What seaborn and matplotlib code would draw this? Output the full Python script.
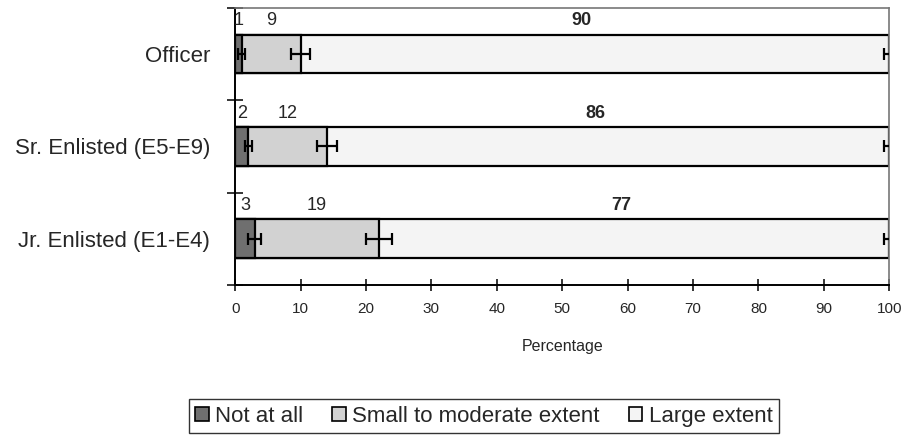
"""Stacked horizontal bars: extent by rank group."""

import numpy as np
import pandas as pd
import matplotlib
matplotlib.use("Agg")
import matplotlib.pyplot as plt
from matplotlib.patches import Patch
import seaborn as sns

groups = ["Officer", "Sr. Enlisted (E5-E9)", "Jr. Enlisted (E1-E4)"]
categories = ["Not at all", "Small to moderate extent", "Large extent"]
not_at_all = [1, 2, 3]
small_moderate = [9, 12, 19]
large = [90, 86, 77]
err_not = [0.5, 0.5, 1.0]
err_small = [1.5, 1.5, 2.0]
err_large = [0.8, 0.8, 0.8]
xticks = [0, 10, 20, 30, 40, 50, 60, 70, 80, 90, 100]

colors = {"Not at all": "#6f6f6f",
          "Small to moderate extent": "#d2d2d2",
          "Large extent": "#f4f4f4"}


def main() -> None:
    sns.set_style("white")
    plt.rcParams["font.family"] = ["Liberation Sans", "DejaVu Sans"]

    c1 = np.array(not_at_all, dtype=float)
    c2 = c1 + np.array(small_moderate)
    c3 = np.full(len(groups), 100.0)

    rows = []
    for i, g in enumerate(groups):
        rows.append({"group": g, "cat": "Large extent", "end": c3[i]})
        rows.append({"group": g, "cat": "Small to moderate extent", "end": c2[i]})
        rows.append({"group": g, "cat": "Not at all", "end": c1[i]})
    df = pd.DataFrame(rows)

    fig = plt.figure(figsize=(9.01, 4.37), dpi=100)
    ax = fig.add_axes([0.261, 0.348, 0.726, 0.634])

    sns.barplot(data=df, x="end", y="group", hue="cat",
                hue_order=["Large extent", "Small to moderate extent", "Not at all"],
                order=groups, palette=colors, dodge=False, width=0.42,
                edgecolor="black", linewidth=1.6, legend=False, ax=ax)

    ypos = np.arange(len(groups))
    for ends, errs in [(c1, err_not), (c2, err_small), (c3, err_large)]:
        ax.errorbar(ends, ypos, xerr=errs, fmt="none", ecolor="black",
                    elinewidth=1.6, capsize=4, capthick=1.6, zorder=5)

    # value labels above each segment
    starts = [np.zeros(len(groups)), c1, c2]
    ends = [c1, c2, c3]
    vals = [not_at_all, small_moderate, large]
    for k in range(3):
        for i in range(len(groups)):
            mid = (starts[k][i] + ends[k][i]) / 2
            if k == 2:
                mid -= 2
            ax.text(mid, i - 0.36, str(vals[k][i]), ha="center", va="center",
                    fontsize=13, fontweight="bold" if k == 2 else "normal")

    ax.set_xlim(0, 100)
    ax.set_ylim(2.5, -0.5)
    ax.set_xticks(xticks)
    ax.tick_params(axis="x", bottom=True, direction="inout", length=9, width=1.3,
                   labelsize=11, pad=8)
    ax.set_yticks(ypos)
    ax.set_yticklabels(groups, fontsize=16)
    ax.set_yticks([-0.5, 0.5, 1.5, 2.5], minor=True)
    ax.tick_params(axis="y", which="major", left=False, length=0, pad=18)
    ax.tick_params(axis="y", which="minor", left=True, direction="inout",
                   length=12, width=1.3)
    ax.set_xlabel("Percentage", fontsize=11.5, labelpad=16)
    ax.set_ylabel("")

    for side in ["left", "bottom"]:
        ax.spines[side].set_color("black")
        ax.spines[side].set_linewidth(1.4)
    for side in ["top", "right"]:
        ax.spines[side].set_color("#777777")
        ax.spines[side].set_linewidth(1.2)
        ax.spines[side].set_linestyle((0, (1, 1)))

    handles = [Patch(facecolor=colors[c], edgecolor="black", linewidth=1.2, label=c)
               for c in categories]
    leg = fig.legend(handles=handles, loc="center", bbox_to_anchor=(0.537, 0.048),
                     ncol=3, fontsize=16, frameon=True, fancybox=False,
                     handlelength=0.6, handleheight=0.6, handletextpad=0.3,
                     columnspacing=1.3, borderpad=0.3, borderaxespad=0)
    leg.get_frame().set_edgecolor("black")
    leg.get_frame().set_linewidth(1.0)

    fig.savefig("out.png", dpi=100)


if __name__ == "__main__":
    main()
